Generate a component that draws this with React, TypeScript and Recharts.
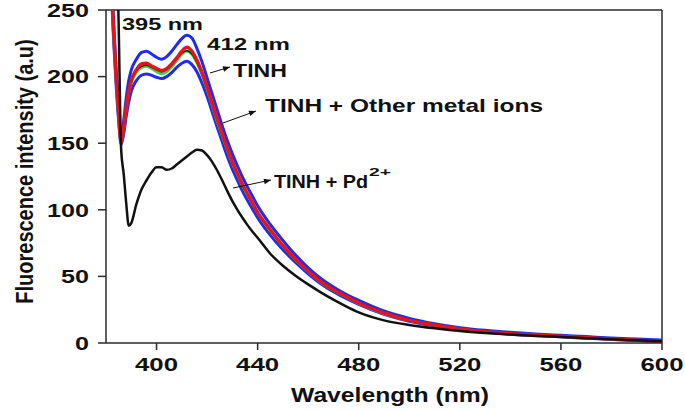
import { LineChart, Line, XAxis, YAxis, ReferenceLine } from 'recharts'

// emission wavelength (nm)
const wavelengths = [
  380, 382, 383, 384, 385, 386, 387, 388, 389, 390,
  392, 394, 396, 398, 400, 402, 404, 406, 408, 410, 412, 414, 416, 418, 420,
  422, 424, 426, 428, 430, 432, 434, 436, 438, 440,
  445, 450, 455, 460, 465, 470, 475, 480,
  490, 500, 510, 520, 530, 540, 550, 560, 570, 580, 590, 600,
]

// TINH + other metal ions (outer blue traces)
const blueHigh = [
  450, 288, 242, 206, 177, 153, 167, 184, 197, 205,
  213, 218, 219, 217, 214.5, 213, 215, 219, 224, 228.5, 231, 229, 221, 211, 199,
  187, 175, 163, 152, 142, 133, 124.5, 117, 110, 103,
  89, 77, 66, 56.5, 48.5, 42, 36.5, 32,
  24, 18.5, 14.5, 11.5, 9.5, 8, 6.8, 5.8, 4.8, 3.8, 3, 2.2,
]
const blueLow = [
  430, 272, 228, 194, 167, 149, 157, 170, 181, 189,
  197, 201, 202, 201, 199.5, 198.5, 200, 203, 207, 210, 211.5, 209, 203.5, 195, 185,
  173.5, 162, 151, 140, 130.5, 122, 114, 107, 100.5, 94,
  81, 70, 60.5, 52, 44.5, 38.5, 33.5, 29,
  21.5, 16.3, 12.8, 9.8, 8, 6.6, 5.6, 4.6, 3.6, 2.7, 1.8, 1,
]
const green = [
  435, 276, 232, 197, 170, 150, 160, 175, 187, 195,
  203, 206.5, 207.5, 206, 203.5, 202, 203.5, 207, 212, 216.5, 219, 216.5, 210, 201, 190,
  178, 166, 155, 144.5, 134.5, 126, 118, 111, 104, 97.5,
  84, 72.5, 62.5, 53.5, 45.5, 39.5, 34.5, 29.5,
  22, 16.8, 13.2, 10.3, 8.3, 6.9, 5.9, 4.9, 3.9, 2.9, 1.9, 1.1,
]
// TINH alone
const tinh = [
  438, 278, 234, 198, 171, 150.5, 161, 176, 188, 196,
  204, 207.5, 208.5, 207, 205, 203.5, 205, 208.5, 213, 217.5, 219.5, 217, 210.5, 202, 191,
  179, 167, 156, 145, 135, 126.5, 118.5, 111.5, 104.5, 98,
  84.5, 73, 63, 54, 46, 40, 35, 30,
  22.3, 16.9, 13.4, 10.4, 8.4, 7, 6, 5, 4, 3, 2, 1.2,
]
const red = [
  440, 280, 235, 200, 172, 151, 162, 177, 189, 197,
  205, 209.5, 210, 208, 206, 204.5, 206, 209.5, 214, 219, 222, 219, 212, 203, 192,
  180, 168, 157, 146, 136, 127, 119, 112, 105, 98,
  85, 73, 63, 54, 46, 40, 35, 30,
  22.5, 17, 13.5, 10.5, 8.5, 7, 6, 5, 4, 3, 2, 1.2,
]
// TINH + Pd2+
const pd = [
  900, 600, 460, 330, 240, 145, 127, 105, 88, 90,
  104, 115, 122, 128, 132, 132, 130, 131, 134, 137, 140, 143, 145, 144.5, 141,
  136, 129.5, 122, 114, 106.5, 100, 94, 88.5, 83.5, 79,
  67, 58, 50.5, 44, 38, 32.5, 27.5, 23,
  17, 13.5, 11, 9, 7.5, 6.3, 5.3, 4.5, 3.6, 2.8, 2, 1.2,
]

const xTicks = [400, 440, 480, 520, 560, 600]
const yTicks = [0, 50, 100, 150, 200, 250]

const data = wavelengths.map((wl, i) => ({
  wl,
  blueHigh: blueHigh[i],
  blueLow: blueLow[i],
  green: green[i],
  tinh: tinh[i],
  red: red[i],
  pd: pd[i],
}))

const FONT = '"Liberation Sans", Arial, sans-serif'
const AXIS = '#2a2a2a'

const XTick = (props: any) => {
  const { x, y, payload } = props
  return (
    <text x={x} y={y} dy="0.71em" textAnchor="middle" fontFamily={FONT} fontWeight="bold"
      fontSize={19} fill="#111" textLength={43} lengthAdjust="spacingAndGlyphs">
      {payload.value}
    </text>
  )
}

const YTick = (props: any) => {
  const { x, y, payload } = props
  const s = String(payload.value)
  return (
    <text x={x} y={y} dy="0.36em" textAnchor="end" fontFamily={FONT} fontWeight="bold"
      fontSize={19} fill="#111" textLength={14 * s.length} lengthAdjust="spacingAndGlyphs">
      {s}
    </text>
  )
}

const Overlay = () => (
  <svg width={685} height={412} style={{ position: 'absolute', left: 0, top: 0, pointerEvents: 'none' }}
    fontFamily={FONT} fontWeight="bold" fill="#111">
    <defs>
      <marker id="head" viewBox="0 0 10 10" refX="10" refY="5" markerWidth="8" markerHeight="7" orient="auto">
        <path d="M0,1 L10,5 L0,9 z" fill="#111" />
      </marker>
    </defs>
    <text x={122} y={30} fontSize={17} textLength={81} lengthAdjust="spacingAndGlyphs">395 nm</text>
    <text x={207} y={50} fontSize={17} textLength={83} lengthAdjust="spacingAndGlyphs">412 nm</text>
    <text x={233} y={77} fontSize={19} textLength={54} lengthAdjust="spacingAndGlyphs">TINH</text>
    <text x={265} y={112} fontSize={19} textLength={278} lengthAdjust="spacingAndGlyphs">TINH + Other metal ions</text>
    <text x={274} y={188} fontSize={19} textLength={94} lengthAdjust="spacingAndGlyphs">TINH + Pd</text>
    <text x={369} y={176} fontSize={11} textLength={22} lengthAdjust="spacingAndGlyphs">2+</text>

    <line x1={210} y1={73} x2={230} y2={67} stroke="#111" strokeWidth={1} markerEnd="url(#head)" />
    <line x1={223} y1={123} x2={256} y2={111} stroke="#111" strokeWidth={1} markerEnd="url(#head)" />
    <line x1={233} y1={188} x2={271} y2={180} stroke="#111" strokeWidth={1} markerEnd="url(#head)" />

    <text transform="translate(33,171.5) scale(1.15,1) rotate(-90)" textAnchor="middle" fontSize={20}>
      Fluorescence intensity (a.u)
    </text>
    <text x={291} y={402} fontSize={21} textLength={198} lengthAdjust="spacingAndGlyphs">Wavelength (nm)</text>
  </svg>
)

export default function App() {
  return (
    <div style={{ position: 'absolute', left: 0, top: 0, width: 685, height: 412, background: '#fff' }}>
      <LineChart width={685} height={412} data={data} margin={{ top: 10, right: 23, bottom: 0, left: 0 }}>
        <XAxis
          dataKey="wl"
          type="number"
          domain={[380, 600]}
          ticks={xTicks}
          allowDataOverflow
          height={69}
          tickSize={7}
          tickMargin={8}
          stroke={AXIS}
          strokeWidth={1.5}
          tick={<XTick />}
        />
        <YAxis
          type="number"
          domain={[0, 250]}
          ticks={yTicks}
          allowDataOverflow
          width={106}
          tickSize={8}
          tickMargin={9}
          stroke={AXIS}
          strokeWidth={1.5}
          tick={<YTick />}
        />
        <ReferenceLine y={250} stroke={AXIS} strokeWidth={1.5} />
        <ReferenceLine x={600} stroke={AXIS} strokeWidth={1.5} />
        <Line type="monotone" dataKey="blueHigh" stroke="#1f2de8" strokeWidth={3} dot={false} isAnimationActive={false} />
        <Line type="monotone" dataKey="blueLow" stroke="#1f2de8" strokeWidth={3} dot={false} isAnimationActive={false} />
        <Line type="monotone" dataKey="green" stroke="#3fd23a" strokeWidth={2.5} dot={false} isAnimationActive={false} />
        <Line type="monotone" dataKey="tinh" stroke="#1a1a1a" strokeWidth={1.5} dot={false} isAnimationActive={false} />
        <Line type="monotone" dataKey="red" stroke="#e3141e" strokeWidth={3.5} dot={false} isAnimationActive={false} />
        <Line type="monotone" dataKey="pd" stroke="#111" strokeWidth={2.5} dot={false} isAnimationActive={false} />
      </LineChart>
      <Overlay />
    </div>
  )
}
